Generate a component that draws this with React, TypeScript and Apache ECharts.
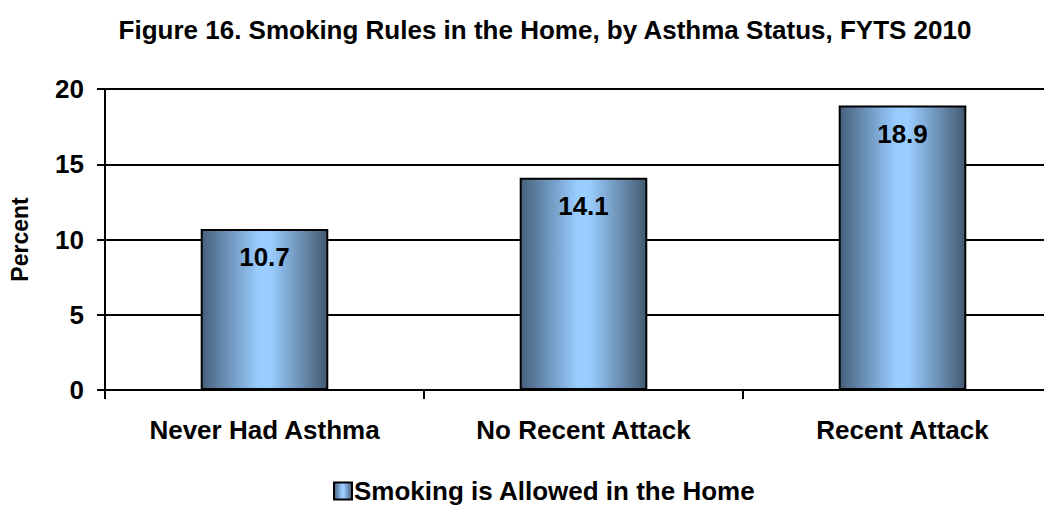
import React, { useEffect, useRef } from "react";
import * as echarts from "echarts";

const categories = ["Never Had Asthma", "No Recent Attack", "Recent Attack"];
const allowedValues = [10.7, 14.1, 18.9];
const seriesName = "Smoking is Allowed in the Home";
const titleText = "Figure 16. Smoking Rules in the Home, by Asthma Status, FYTS 2010";

const FONT = "'Liberation Sans', Arial, Helvetica, sans-serif";

export default function App() {
  const ref = useRef<HTMLDivElement>(null);

  useEffect(() => {
    if (!ref.current) return;
    const chart = echarts.init(ref.current, null, { renderer: "svg" });

    const barFill = new echarts.graphic.LinearGradient(0, 0, 1, 0, [
      { offset: 0, color: "#46607c" },
      { offset: 0.45, color: "#99ccff" },
      { offset: 0.55, color: "#99ccff" },
      { offset: 1, color: "#435a72" },
    ]);

    chart.setOption({
      animation: false,
      backgroundColor: "#ffffff",
      textStyle: { fontFamily: FONT },
      title: {
        text: titleText,
        left: 540,
        textAlign: "center",
        top: 12,
        textStyle: { fontFamily: FONT, fontSize: 26, fontWeight: "bold", color: "#000" },
      },
      legend: {
        left: 333,
        top: 478,
        padding: 0,
        icon: "rect",
        itemWidth: 18,
        itemHeight: 17,
        itemGap: 4,
        textStyle: { fontFamily: FONT, fontSize: 26, fontWeight: "bold", color: "#000", padding: [0, 0, 0, -3] },
        data: [seriesName],
      },
      grid: { left: 99, top: 89, width: 963, height: 301, containLabel: false },
      xAxis: {
        type: "category",
        data: categories,
        axisLine: { show: true, lineStyle: { color: "#000", width: 2 } },
        axisTick: { show: true, alignWithLabel: false, length: 9, lineStyle: { color: "#000", width: 2 } },
        axisLabel: { fontFamily: FONT, fontSize: 26, fontWeight: "bold", color: "#000", margin: 27 },
      },
      yAxis: {
        type: "value",
        min: 0,
        max: 20,
        interval: 5,
        name: "Percent",
        nameLocation: "middle",
        nameRotate: 90,
        nameGap: 74,
        nameTextStyle: { fontFamily: FONT, fontSize: 23, fontWeight: "bold", color: "#000" },
        axisLine: { show: true, lineStyle: { color: "#000", width: 2 } },
        axisTick: { show: true, length: 8, lineStyle: { color: "#000", width: 2 } },
        axisLabel: { fontFamily: FONT, fontSize: 26, fontWeight: "bold", color: "#000", margin: 21 },
        splitLine: { show: true, lineStyle: { color: "#000", width: 2 } },
      },
      series: [
        {
          name: seriesName,
          type: "bar",
          data: allowedValues,
          barWidth: "40%",
          itemStyle: { color: barFill, borderColor: "#000", borderWidth: 2 },
          label: {
            show: true,
            position: "insideTop",
            distance: 15,
            formatter: (p: any) => p.value.toFixed(1),
            fontFamily: FONT,
            fontSize: 26,
            fontWeight: "bold",
            color: "#000",
          },
        },
      ],
    });

    return () => chart.dispose();
  }, []);

  return (
    <div style={{ width: 1052, height: 513, margin: -8, overflow: "hidden", position: "relative" }}>
      <div ref={ref} style={{ width: 1070, height: 513 }} />
    </div>
  );
}
